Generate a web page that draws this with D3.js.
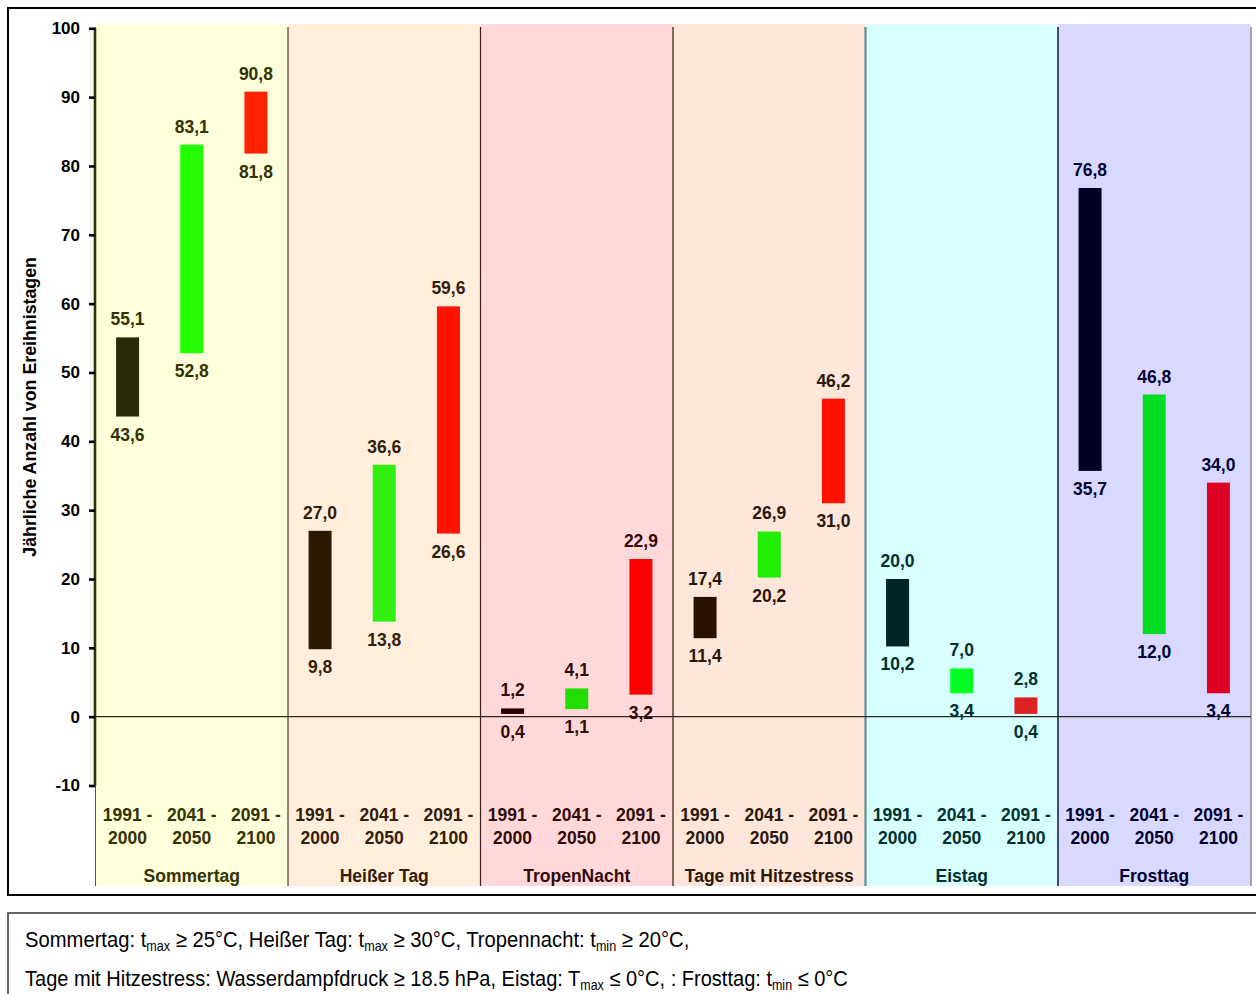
<!DOCTYPE html>
<html>
<head>
<meta charset="utf-8">
<script src="https://cdn.jsdelivr.net/npm/d3@7"></script>
<style>
  html, body { margin: 0; padding: 0; background: #fff; }
  svg { display: block; }
  text { font-family: "Liberation Sans", Arial, sans-serif; }
</style>
</head>
<body>
<svg id="chart" width="1256" height="994"></svg>
<script>
// ---------- data ----------
const groups = ["Sommertag", "Heißer Tag", "TropenNacht", "Tage mit Hitzestress", "Eistag", "Frosttag"];
const periodStart = ["1991 -", "2041 -", "2091 -"];
const periodEnd = ["2000", "2050", "2100"];
const periods = ["1991-2000", "2041-2050", "2091-2100"];
const lowValues = [
  [43.6, 52.8, 81.8],
  [9.8, 13.8, 26.6],
  [0.4, 1.1, 3.2],
  [11.4, 20.2, 31.0],
  [10.2, 3.4, 0.4],
  [35.7, 12.0, 3.4]
];
const highValues = [
  [55.1, 83.1, 90.8],
  [27.0, 36.6, 59.6],
  [1.2, 4.1, 22.9],
  [17.4, 26.9, 46.2],
  [20.0, 7.0, 2.8],
  [76.8, 46.8, 34.0]
];
const yTicks = [-10, 0, 10, 20, 30, 40, 50, 60, 70, 80, 90, 100];
const yTitle = "Jährliche Anzahl von Ereihnistagen";

// ---------- styles ----------
const panelFill = ["#FFFFDC", "#FFEEDB", "#FFD9D9", "#FFE6DA", "#D8FFFF", "#D9D9FF"];
const textColor = ["#333300", "#33200A", "#330A0A", "#2B1808", "#003030", "#000033"];
const sepColor = ["#333300", "#4A3A2A", "#3A2020", "#2A1A10", "#5F8F8F", "#22224A"];
const sepWidth = [2.5, 1.2, 1.2, 1.2, 2.2, 1.6];
const barColors = [
  ["#2A2A08", "#22FF00", "#FF2200"],
  ["#2A1A00", "#33EE11", "#FF1100"],
  ["#2A0008", "#22DD00", "#FF0000"],
  ["#2A1000", "#22EE00", "#FF1100"],
  ["#002424", "#00FF22", "#DD2222"],
  ["#000022", "#00DD22", "#DD0022"]
];

const fmt = d3.formatLocale({decimal: ",", thousands: ".", grouping: [3], currency: ["", "€"]}).format(".1f");

const svg = d3.select("#chart");

// outer frame
svg.append("rect").attr("x", 8).attr("y", 8).attr("width", 1260).attr("height", 887)
  .attr("fill", "#fff").attr("stroke", "#000").attr("stroke-width", 2);

const plotTop = 24, plotBottom = 886;
const x0 = d3.scaleBand().domain(groups).range([95.5, 1250.5]).paddingInner(0).paddingOuter(0);
const x1 = d3.scaleBand().domain(periods).range([0, x0.bandwidth()]);
const y = d3.scaleLinear().domain([-10, 100]).range([785.5, 28.3]);
const barW = 23;

// panels
svg.selectAll("rect.panel").data(groups).join("rect")
  .attr("class", "panel")
  .attr("x", d => x0(d)).attr("y", plotTop)
  .attr("width", x0.bandwidth()).attr("height", plotBottom - plotTop)
  .attr("fill", (d, i) => panelFill[i]);

// right edge of last panel
svg.append("line").attr("x1", 1251).attr("x2", 1251).attr("y1", 27).attr("y2", plotBottom)
  .attr("stroke", "#8a8a8a").attr("stroke-width", 1.5);

// separators
svg.selectAll("line.sep").data(groups).join("line")
  .attr("class", "sep")
  .attr("x1", d => x0(d)).attr("x2", d => x0(d))
  .attr("y1", 27).attr("y2", plotBottom)
  .attr("stroke", (d, i) => i === 0 ? "#555533" : sepColor[i])
  .attr("stroke-width", (d, i) => i === 0 ? 1 : sepWidth[i]);

// zero line
svg.append("line").attr("x1", 95).attr("x2", 1251).attr("y1", y(0)).attr("y2", y(0))
  .attr("stroke", "#2a2a1a").attr("stroke-width", 1.3);

// y axis
const yAxis = d3.axisLeft(y).tickValues(yTicks).tickSize(6).tickPadding(9).tickFormat(d => String(d));
const ya = svg.append("g").attr("transform", "translate(95,0)").call(yAxis);
ya.select(".domain").attr("stroke", "#333300").attr("stroke-width", 2.6).attr("d", `M0,${y(100)}V${y(-10)}`);
ya.selectAll(".tick line").attr("stroke", "#000").attr("stroke-width", 2.6);
ya.selectAll(".tick text").attr("fill", "#000").style("font-size", "17px").style("font-weight", "bold")
  .style("font-family", "'Liberation Sans', Arial, sans-serif");

// y title
svg.append("text")
  .attr("transform", `translate(36,${(y(100) + y(-10)) / 2}) rotate(-90)`)
  .attr("text-anchor", "middle")
  .style("font-size", "17.8px").style("font-weight", "bold").attr("fill", "#000")
  .text(yTitle);

// bars & labels
groups.forEach((g, gi) => {
  const gEl = svg.append("g");
  periods.forEach((p, pi) => {
    const cx = x0(g) + x1(p) + x1.bandwidth() / 2;
    const lo = lowValues[gi][pi], hi = highValues[gi][pi];
    gEl.append("rect")
      .attr("x", cx - barW / 2).attr("y", y(hi))
      .attr("width", barW).attr("height", y(lo) - y(hi))
      .attr("fill", barColors[gi][pi]);
    gEl.append("text").attr("x", cx).attr("y", y(hi) - 12)
      .attr("text-anchor", "middle").attr("fill", textColor[gi])
      .style("font-size", "17.5px").style("font-weight", "bold").text(fmt(hi));
    gEl.append("text").attr("x", cx).attr("y", y(lo) + 24)
      .attr("text-anchor", "middle").attr("fill", textColor[gi])
      .style("font-size", "17.5px").style("font-weight", "bold").text(fmt(lo));
    gEl.append("text").attr("x", cx).attr("y", 821)
      .attr("text-anchor", "middle").attr("fill", textColor[gi])
      .style("font-size", "17.5px").style("font-weight", "bold").text(periodStart[pi]);
    gEl.append("text").attr("x", cx).attr("y", 844)
      .attr("text-anchor", "middle").attr("fill", textColor[gi])
      .style("font-size", "17.5px").style("font-weight", "bold").text(periodEnd[pi]);
  });
  gEl.append("text").attr("x", x0(g) + x0.bandwidth() / 2).attr("y", 882)
    .attr("text-anchor", "middle").attr("fill", textColor[gi])
    .style("font-size", "17.5px").style("font-weight", "bold").text(g);
});

// caption box
svg.append("rect").attr("x", 8).attr("y", 913).attr("width", 1270).attr("height", 100)
  .attr("fill", "#fff").attr("stroke", "#333").attr("stroke-width", 1.5);

const capFont = "'Liberation Sans Narrow', 'Arial Narrow', 'Liberation Sans', sans-serif";
function caption(yPos, parts, targetW) {
  const t = svg.append("text").attr("x", 25).attr("y", yPos)
    .style("font-family", capFont).style("font-size", "22.5px").attr("fill", "#000");
  let pendingDy = 0;
  parts.forEach(p => {
    if (typeof p === "string") {
      t.append("tspan").attr("dy", pendingDy).text(p);
      pendingDy = 0;
    } else {
      t.append("tspan").attr("dy", 4).style("font-size", "14px").text(p.sub);
      pendingDy = -4;
    }
  });
  const w = t.node().getComputedTextLength();
  t.attr("transform", `translate(25,0) scale(${targetW / w},1) translate(-25,0)`);
}
caption(947, ["Sommertag: t", {sub: "max"}, " ≥ 25°C, Heißer Tag: t", {sub: "max"}, " ≥ 30°C, Tropennacht: t", {sub: "min"}, " ≥ 20°C,"], 665);
caption(986, ["Tage mit Hitzestress: Wasserdampfdruck ≥ 18.5 hPa, Eistag: T", {sub: "max"}, " ≤ 0°C, : Frosttag: t", {sub: "min"}, " ≤ 0°C"], 823);
</script>
</body>
</html>
